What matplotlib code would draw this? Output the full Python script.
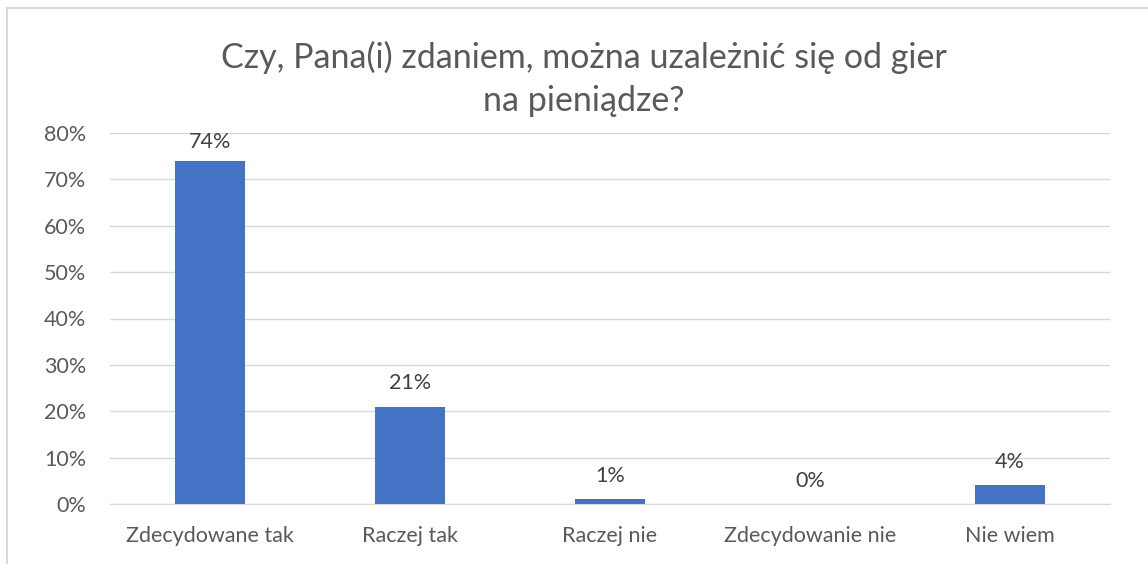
import matplotlib
matplotlib.use("Agg")
import matplotlib.pyplot as plt
from matplotlib.ticker import FuncFormatter, MultipleLocator
from matplotlib.patches import Rectangle

plt.rcParams['font.family'] = ['Lato', 'DejaVu Sans']

categories = ["Zdecydowane tak", "Raczej tak", "Raczej nie", "Zdecydowanie nie", "Nie wiem"]
values = [0.74, 0.21, 0.01, 0.00, 0.04]
labels = ["74%", "21%", "1%", "0%", "4%"]
title = "Czy, Pana(i) zdaniem, można uzależnić się od gier\nna pieniądze?"

fig = plt.figure(figsize=(11.48, 5.64), dpi=100)
fig.patch.set_facecolor("white")
# outer chart border (partially visible)
fig.add_artist(Rectangle((7/1148, -0.1), 1.2, 1 - 8/564 + 0.1, transform=fig.transFigure,
                         fill=False, edgecolor="#d9d9d9", linewidth=1.5))

ax = fig.add_axes([110/1148, 60/564, 1000/1148, 371/564])
x = range(len(categories))
ax.bar(x, values, width=0.35, color="#4472C4", zorder=3)
for xi, v, lab in zip(x, values, labels):
    off = 0.018 if v > 0.7 else 0.029
    ax.text(xi, v + off, lab, ha="center", va="bottom", fontsize=15.5, color="#404040")

ax.set_ylim(0, 0.8)
ax.set_xlim(-0.5, len(categories) - 0.5)
ax.yaxis.set_major_locator(MultipleLocator(0.1))
ax.yaxis.set_major_formatter(FuncFormatter(lambda v, p: f"{round(v*100)}%"))
ax.grid(axis="y", color="#d9d9d9", linewidth=1, zorder=0)
ax.set_xticks(list(x))
ax.set_xticklabels(categories)
ax.tick_params(axis="both", length=0, labelsize=15.5, labelcolor="#595959")
ax.tick_params(axis="x", pad=15.5)
ax.tick_params(axis="y", pad=17)
for s in ["top", "right", "left"]:
    ax.spines[s].set_visible(False)
ax.spines["bottom"].set_color("#d9d9d9")

fig.text(584/1148, 1 - 79/564, title, ha="center", va="center", fontsize=24.5,
         color="#595959", linespacing=1.4)

fig.savefig("out.png", dpi=100)
